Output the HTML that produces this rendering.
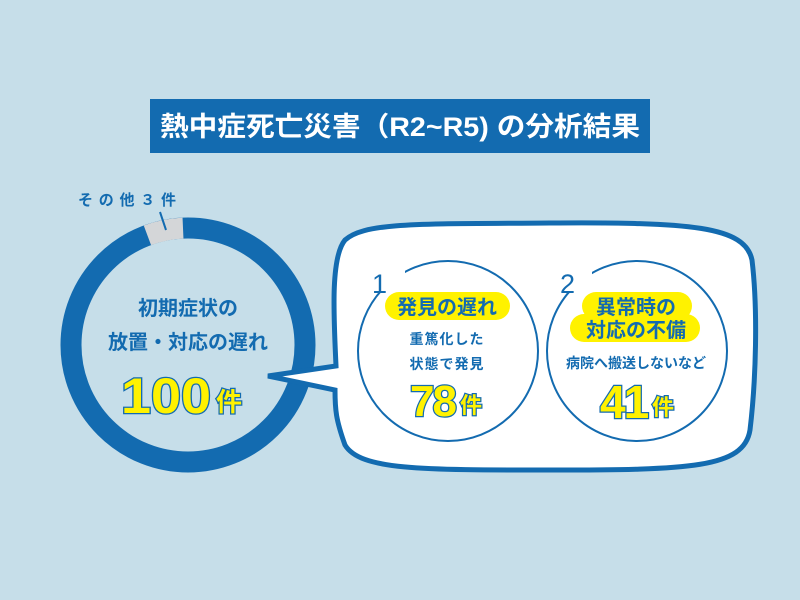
<!DOCTYPE html>
<html><head><meta charset="utf-8"><style>
html,body{margin:0;padding:0;background:#c6dee9;}
svg{display:block;font-family:"Liberation Sans","Noto Sans CJK JP",sans-serif;}
</style></head><body>
<svg width="800" height="600" viewBox="0 0 800 600">
<rect width="800" height="600" fill="#c6dee9"/>
<rect x="150" y="99" width="500" height="54" fill="#136bb0"/>
<text x="160" y="136" font-size="27" font-weight="bold" fill="#fff" textLength="480" lengthAdjust="spacingAndGlyphs">熱中症死亡災害（R2~R5) の分析結果</text>

<!-- ring -->
<circle cx="188" cy="345" r="117" fill="none" stroke="#136bb0" stroke-width="21"/>
<path d="M147.4 235.3 A117 117 0 0 1 183 228.1" fill="none" stroke="#d4d6d8" stroke-width="21"/>
<line x1="160" y1="212" x2="166" y2="230" stroke="#136bb0" stroke-width="2"/>
<text x="78" y="205" font-size="15" font-weight="bold" fill="#136bb0" textLength="98" lengthAdjust="spacing">その他３件</text>
<text x="188" y="315" font-size="20" font-weight="bold" fill="#136bb0" text-anchor="middle">初期症状の</text>
<text x="188" y="349" font-size="20" font-weight="bold" fill="#136bb0" text-anchor="middle">放置・対応の遅れ</text>
<g font-weight="bold" fill="#fff200" stroke="#136bb0" stroke-width="2.5" paint-order="stroke">
<text x="121" y="413" font-size="50" textLength="90" lengthAdjust="spacingAndGlyphs">100</text>
<text x="216" y="411" font-size="26">件</text>
</g>

<!-- bubble -->
<path d="M345 240 C365 222 420 224 550 223 C690 222 745 226 752 260 C758 310 756 380 750 430 C744 468 690 470 550 470 C420 470 360 470 345 445 C336 420 335 410 335 390 L268 376 L336 366 C334 320 330 258 345 240 Z" fill="#fff" stroke="#136bb0" stroke-width="5"/>
<circle cx="448" cy="351" r="90" fill="none" stroke="#136bb0" stroke-width="2"/>
<circle cx="637" cy="351" r="90" fill="none" stroke="#136bb0" stroke-width="2"/>
<rect x="373" y="263" width="32" height="30" fill="#fff"/>
<rect x="560" y="263" width="32" height="30" fill="#fff"/>
<text x="372" y="293" font-size="27" fill="#136bb0">1</text>
<text x="560" y="293" font-size="27" fill="#136bb0">2</text>

<rect x="385" y="292" width="125" height="28" rx="14" fill="#fff200"/>
<text x="447" y="314" font-size="20" font-weight="bold" fill="#136bb0" text-anchor="middle">発見の遅れ</text>
<text x="447" y="344" font-size="14" font-weight="bold" fill="#136bb0" text-anchor="middle" letter-spacing="1">重篤化した</text>
<text x="447" y="369" font-size="14" font-weight="bold" fill="#136bb0" text-anchor="middle" letter-spacing="1">状態で発見</text>

<rect x="582" y="292" width="110" height="28" rx="14" fill="#fff200"/>
<rect x="570" y="314" width="130" height="28" rx="14" fill="#fff200"/>
<text x="636" y="314" font-size="20" font-weight="bold" fill="#136bb0" text-anchor="middle">異常時の</text>
<text x="636" y="337" font-size="20" font-weight="bold" fill="#136bb0" text-anchor="middle">対応の不備</text>
<text x="636" y="368" font-size="14" font-weight="bold" fill="#136bb0" text-anchor="middle">病院へ搬送しないなど</text>

<g font-weight="bold" fill="#fff200" stroke="#136bb0" stroke-width="2.5" paint-order="stroke">
<text x="410" y="416" font-size="44" letter-spacing="-2">78</text>
<text x="460" y="413" font-size="22">件</text>
<text x="600" y="418" font-size="46" letter-spacing="-2">41</text>
<text x="652" y="415" font-size="22">件</text>
</g>
</svg>
</body></html>
